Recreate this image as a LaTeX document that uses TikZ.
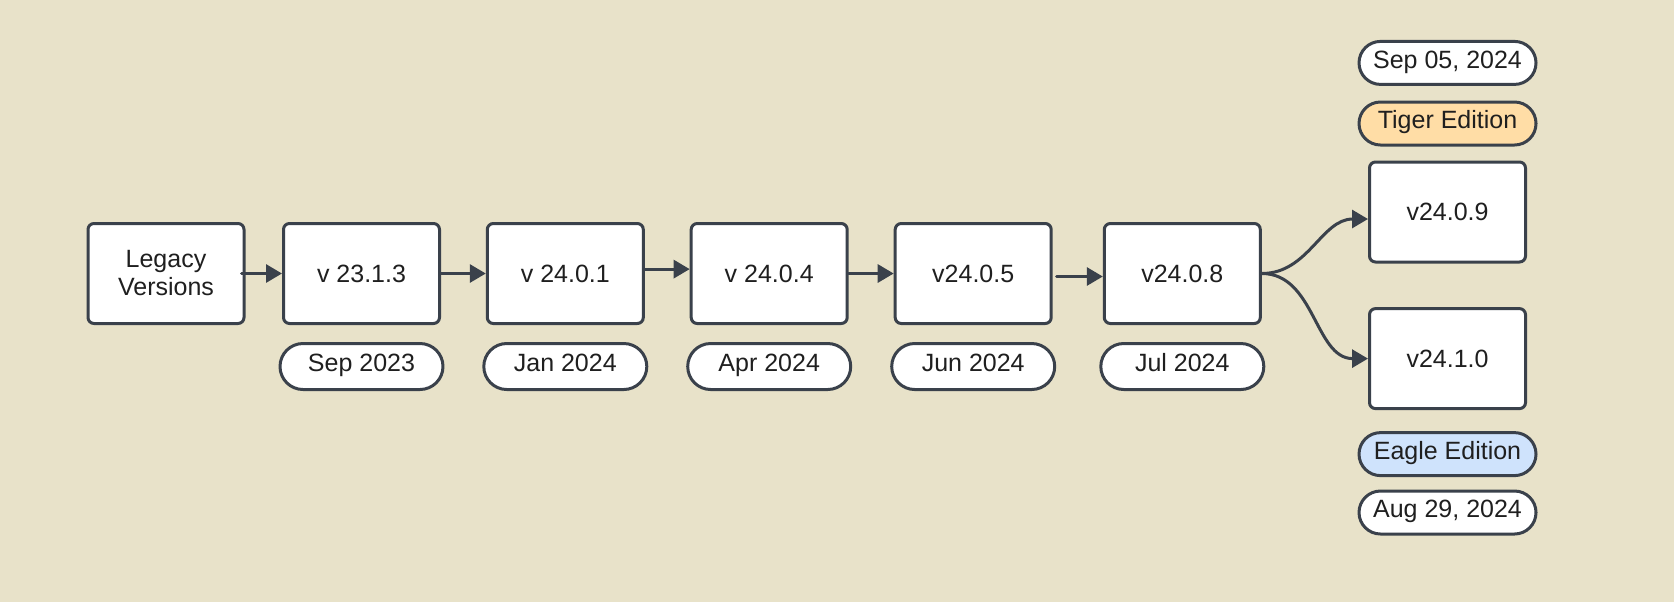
\documentclass[tikz,border=0pt]{standalone}
\usepackage{fontspec}
\setmainfont{Liberation Sans}
\usetikzlibrary{arrows.meta, positioning}
\definecolor{pbg}{HTML}{E8E2C9}
\definecolor{pline}{HTML}{3A414B}
\definecolor{ptxt}{HTML}{1F1F1F}
\definecolor{tigerfill}{HTML}{FFDDA6}
\definecolor{eaglefill}{HTML}{CFE3FC}
\tikzset{
  relbox/.style   = {draw=pline, fill=white, line width=1.5pt, rounded corners=3pt,
                     minimum width=78pt, minimum height=50pt, inner sep=2pt,
                     align=center, text=ptxt, font=\fontsize{12.5}{14}\selectfont},
  datepill/.style = {draw=pline, fill=white, line width=1.5pt, rounded corners=11.5pt,
                     minimum width=81.5pt, minimum height=23pt, inner sep=1pt,
                     text height=0.74em, text depth=0.2em,
                     text=ptxt, font=\fontsize{12.5}{14}\selectfont},
  sidepill/.style = {datepill, rounded corners=10.75pt, minimum width=88.5pt,
                     minimum height=21.5pt},
  relarrow/.style = {draw=pline, line width=1.5pt, -{Triangle[length=8pt, width=9pt]}},
}

\begin{document}
\begin{tikzpicture}[x=0.5pt, y=-0.5pt, line cap=round, line join=round]
  \fill[pbg] (0,0) rectangle (1674,602);
  \useasboundingbox (0,0) rectangle (1674,602);
  % main release line
  \node[relbox] (legacy) at (166,273.5)    {Legacy\\Versions};
  \node[relbox] (v2313)  at (361.5,273.5)  {v 23.1.3};
  \node[relbox] (v2401)  at (565.3,273.5)  {v 24.0.1};
  \node[relbox] (v2404)  at (769.2,273.5)  {v 24.0.4};
  \node[relbox] (v2405)  at (973.2,273.5)  {v24.0.5};
  \node[relbox] (v2408)  at (1182.3,273.5) {v24.0.8};
  \node[datepill, below=8.5pt of v2313] (d2313) {Sep 2023};
  \node[datepill, below=8.5pt of v2401] (d2401) {Jan 2024};
  \node[datepill, below=8.5pt of v2404] (d2404) {Apr 2024};
  \node[datepill, below=8.5pt of v2405] (d2405) {Jun 2024};
  \node[datepill, below=8.5pt of v2408] (d2408) {Jul 2024};
  % editions
  \node[relbox] (v2409) at (1447.5,212)   {v24.0.9};
  \node[relbox] (v2410) at (1447.5,358.6) {v24.1.0};
  \node[sidepill, fill=tigerfill, above=7pt of v2409] (tiger) {Tiger Edition};
  \node[sidepill, above=7.3pt of tiger] (d2409) {Sep 05, 2024};
  \node[sidepill, fill=eaglefill, below=10.5pt of v2410] (eagle) {Eagle Edition};
  \node[sidepill, below=6.2pt of eagle] (d2410) {Aug 29, 2024};
  % connectors
  \draw[relarrow] ([xshift=-2pt]legacy.east) -- (v2313.west);
  \draw[relarrow] (v2313.east) -- (v2401.west);
  \draw[relarrow] ([yshift=2.2pt]v2401.east) -- ([yshift=2.2pt]v2404.west);
  \draw[relarrow] (v2404.east) -- (v2405.west);
  \draw[relarrow] ([xshift=2pt,yshift=-1.5pt]v2405.east) -- ([yshift=-1.5pt]v2408.west);
  \draw[relarrow] (v2408.east) to[out=0, in=180] ([yshift=-3.5pt]v2409.west);
  \draw[relarrow] (v2408.east) to[out=0, in=180] (v2410.west);
\end{tikzpicture}
\end{document}
